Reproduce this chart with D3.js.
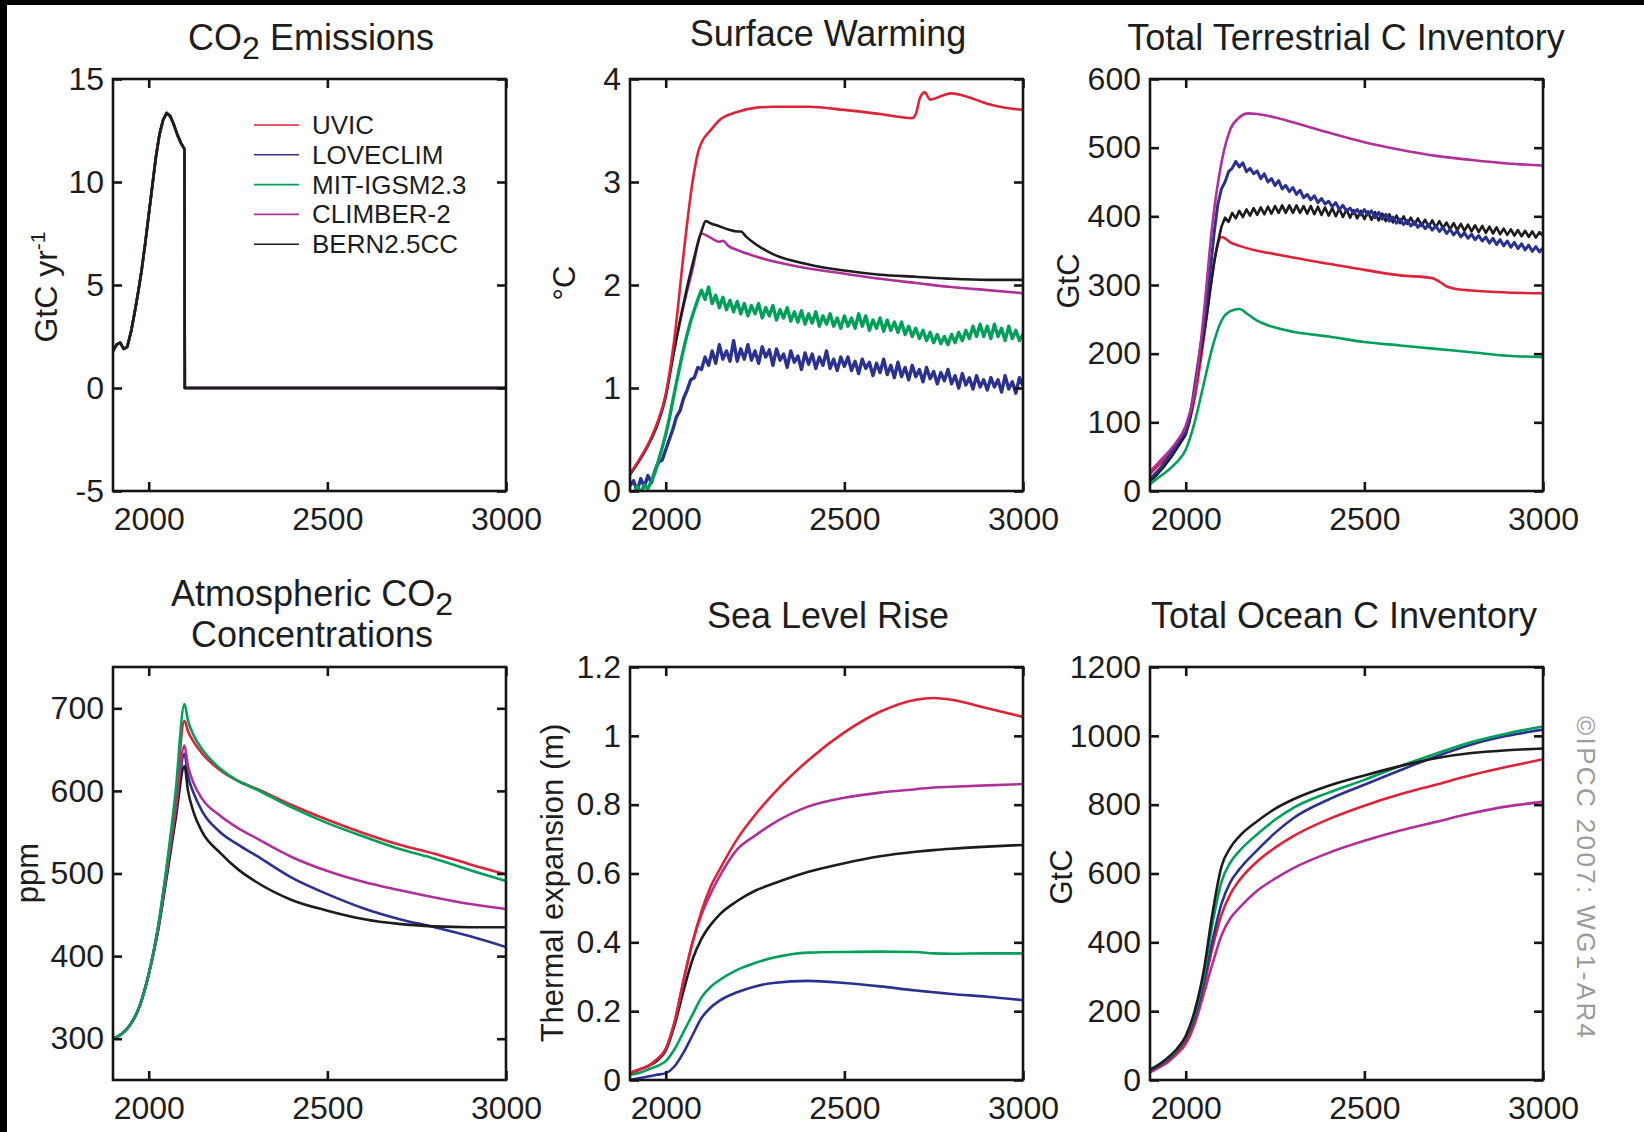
<!DOCTYPE html>
<html>
  <head>
    <title>Carbon cycle model comparison</title>
    <meta charset="utf-8">
    <style>
      body { margin: 0; background: #000; }
      svg { display: block; }
      text { font-family: "Liberation Sans", Arial, sans-serif; fill: #1d1d1d; }
    </style>
  </head>
  <body>
    <script src="https://d3js.org/d3.v7.min.js"></script>
    <script>
      // models and colours
      const models = ["UVIC", "LOVECLIM", "MIT-IGSM2.3", "CLIMBER-2", "BERN2.5CC"]
      const modelColors = ["#dc2337", "#2b3190", "#00a05a", "#b0309a", "#1c1c1c"]
      const xTicks = [2000, 2500, 3000]
      const decades = d3.range(1900, 3001, 10)

      // CO2 emissions (same for all models)
      const emYears = [1900, 1910, 1920, 1930, 1940, 1950, 1960, 1970, 1980, 1990, 2000, 2010, 2020, 2030, 2040, 2050, 2060, 2070, 2080, 2090, 2100, 2101, 3000]
      const emValues = [1.8, 2.1, 2.2, 1.9, 2.0, 2.7, 3.6, 4.6, 5.7, 7.0, 8.4, 9.8, 11.2, 12.3, 13.0, 13.35, 13.2, 12.8, 12.3, 11.9, 11.6, 0, 0]
      const emTicks = [-5, 0, 5, 10, 15]

      // surface warming
      const swRedYears = [1900, 1925, 1950, 1975, 2000, 2025, 2050, 2075, 2090, 2100, 2125, 2150, 2200, 2250, 2300, 2400, 2500, 2600, 2690, 2700, 2712, 2725, 2740, 2775, 2800, 2850, 2900, 2950, 3000]
      const swRed = [0.17, 0.3, 0.45, 0.65, 0.94, 1.5, 2.3, 3.0, 3.28, 3.38, 3.5, 3.6, 3.68, 3.72, 3.73, 3.73, 3.7, 3.66, 3.62, 3.66, 3.82, 3.87, 3.8, 3.84, 3.86, 3.82, 3.76, 3.72, 3.7]
      const swBlackYears = [1900, 1925, 1950, 1975, 2000, 2020, 2050, 2075, 2100, 2112, 2125, 2150, 2175, 2200, 2210, 2225, 2250, 2300, 2400, 2500, 2600, 2700, 2800, 2900, 3000]
      const swBlack = [0.16, 0.29, 0.44, 0.63, 0.92, 1.3, 1.82, 2.2, 2.52, 2.62, 2.6, 2.57, 2.54, 2.52, 2.52, 2.47, 2.4, 2.3, 2.2, 2.14, 2.1, 2.08, 2.06, 2.05, 2.05]
      const swMagYears = [1900, 1925, 1950, 1975, 2000, 2020, 2050, 2075, 2100, 2125, 2150, 2160, 2175, 2200, 2250, 2300, 2400, 2500, 2600, 2700, 2800, 2900, 3000]
      const swMag = [0.16, 0.29, 0.44, 0.63, 0.92, 1.3, 1.8, 2.15, 2.5, 2.46, 2.42, 2.43, 2.38, 2.34, 2.28, 2.23, 2.16, 2.11, 2.06, 2.02, 1.98, 1.95, 1.92]
      const swBlue = [
        0.05, 0.1, 0.0, 0.12, 0.04, 0.15, 0.08, 0.2, 0.28, 0.3,
        0.4, 0.5, 0.6, 0.72, 0.78, 0.9, 0.98, 1.08, 1.1, 1.2,
        1.18, 1.3, 1.22, 1.36, 1.24, 1.42, 1.28, 1.36, 1.26, 1.46,
        1.26, 1.38, 1.28, 1.42, 1.27, 1.36, 1.24, 1.4, 1.3, 1.37,
        1.22, 1.38, 1.27, 1.33, 1.2, 1.36, 1.25, 1.31, 1.18, 1.34,
        1.23, 1.33, 1.19, 1.3, 1.22, 1.36, 1.19, 1.28, 1.17, 1.3,
        1.21, 1.3, 1.17, 1.26, 1.14, 1.28, 1.19, 1.25, 1.12, 1.24,
        1.15, 1.28, 1.13, 1.22, 1.1, 1.25, 1.11, 1.2, 1.08, 1.22,
        1.11, 1.18, 1.06, 1.2, 1.09, 1.16, 1.04, 1.15, 1.07, 1.18,
        1.04, 1.12, 1.0, 1.14, 1.03, 1.1, 0.99, 1.12, 1.01, 1.08,
        0.98, 1.1, 1.01, 1.08, 0.96, 1.12, 0.99, 1.06, 0.95, 1.1,
        1.02]
      const swGreen = [
        0.0, -0.04, 0.05, -0.02, 0.06, 0.02, 0.1, 0.18, 0.3, 0.42,
        0.55, 0.7, 0.88, 1.05, 1.22, 1.38, 1.52, 1.65, 1.76, 1.86,
        1.95, 1.86, 1.98, 1.82, 1.9, 1.78, 1.88, 1.76, 1.85, 1.74,
        1.84, 1.72, 1.82, 1.7, 1.8, 1.72, 1.82, 1.68, 1.78, 1.7,
        1.8, 1.66, 1.76, 1.68, 1.78, 1.65, 1.74, 1.64, 1.75, 1.62,
        1.72, 1.63, 1.74, 1.6, 1.7, 1.62, 1.72, 1.6, 1.68, 1.58,
        1.7, 1.6, 1.68, 1.58, 1.72, 1.6, 1.7, 1.56, 1.66, 1.58,
        1.68, 1.55, 1.66, 1.56, 1.64, 1.54, 1.64, 1.52, 1.6, 1.5,
        1.58, 1.48, 1.56, 1.46, 1.54, 1.44, 1.52, 1.43, 1.5, 1.42,
        1.52, 1.44, 1.54, 1.46, 1.56, 1.48, 1.6, 1.5, 1.62, 1.5,
        1.6, 1.48, 1.62, 1.5, 1.58, 1.46, 1.6, 1.48, 1.56, 1.46,
        1.52]
      const swTicks = [0, 1, 2, 3, 4]

      // total terrestrial C inventory
      const tcYears = [1900, 1925, 1950, 1975, 2000, 2025, 2050, 2075, 2100, 2125, 2150, 2175, 2200, 2250, 2300, 2400, 2500, 2600, 2700, 2800, 2900, 3000]
      const tcMag = [28, 42, 56, 72, 95, 145, 255, 390, 478, 527, 544, 550, 549, 544, 537, 522, 508, 497, 488, 482, 477, 474]
      const tcGreen = [10, 20, 30, 42, 60, 100, 155, 210, 248, 262, 265, 257, 248, 238, 232, 225, 217, 212, 207, 202, 197, 195]
      const tcRedYears = [1900, 1925, 1950, 1975, 2000, 2025, 2050, 2075, 2090, 2100, 2110, 2125, 2150, 2200, 2250, 2300, 2400, 2500, 2600, 2690, 2710, 2730, 2750, 2800, 2900, 3000]
      const tcRed = [25, 38, 52, 68, 85, 135, 220, 318, 360, 370, 368, 362, 357, 350, 345, 340, 331, 322, 314, 310, 305, 298, 295, 292, 289, 288]
      const tcBlue = [
        18, 23, 28, 34, 41, 48, 55, 63, 72, 80,
        85, 105, 135, 170, 205, 238, 282, 328, 378, 418,
        440, 450, 465, 470, 480, 472, 478, 465, 470, 462,
        466, 455, 462, 450, 455, 445, 452, 440, 445, 436,
        442, 432, 438, 427, 432, 424, 430, 420, 426, 418,
        422, 414, 420, 410, 416, 408, 412, 404, 410, 402,
        410, 402, 408, 398, 406, 396, 403, 393, 399, 390,
        396, 388, 394, 386, 392, 384, 390, 382, 388, 380,
        386, 378, 384, 375, 381, 373, 379, 370, 376, 368,
        374, 366, 372, 364, 370, 361, 368, 359, 366, 357,
        364, 355, 362, 353, 360, 351, 358, 349, 356, 348,
        354]
      const tcBlack = [
        15, 19, 24, 30, 36, 43, 50, 58, 66, 74,
        82, 100, 128, 162, 195, 226, 260, 298, 335, 362,
        385, 398, 392, 405, 397, 408, 399, 410, 401, 412,
        402, 413, 403, 414, 404, 415, 405, 416, 405, 416,
        405, 416, 405, 415, 404, 415, 403, 414, 402, 413,
        401, 412, 400, 411, 399, 410, 398, 409, 397, 408,
        396, 407, 395, 406, 394, 404, 393, 403, 391, 401,
        390, 400, 389, 398, 388, 397, 386, 395, 385, 394,
        384, 393, 383, 391, 381, 390, 380, 389, 379, 388,
        378, 387, 377, 386, 376, 385, 375, 384, 374, 382,
        373, 381, 372, 380, 371, 379, 370, 378, 369, 377,
        372]
      const tcTicks = [0, 100, 200, 300, 400, 500, 600]

      // atmospheric CO2
      const acYears = [1900, 1925, 1950, 1975, 2000, 2025, 2050, 2075, 2100, 2110, 2125, 2150, 2200, 2250, 2300, 2400, 2500, 2600, 2700, 2800, 2900, 3000]
      const acRed = [300, 306, 318, 340, 378, 432, 505, 588, 685, 672, 660, 645, 625, 612, 603, 583, 565, 549, 535, 524, 511, 499]
      const acGreen = [300, 306, 318, 340, 378, 433, 508, 598, 705, 685, 668, 650, 627, 612, 602, 580, 561, 545, 530, 518, 504, 491]
      const acMag = [300, 306, 318, 340, 378, 430, 500, 575, 655, 630, 610, 590, 570, 555, 543, 520, 503, 490, 480, 471, 463, 457]
      const acBlue = [300, 306, 318, 340, 378, 430, 498, 570, 645, 618, 598, 575, 550, 535, 522, 495, 475, 458, 445, 435, 424, 411]
      const acBlack = [300, 306, 318, 340, 378, 428, 495, 565, 630, 600, 575, 550, 525, 505, 490, 468, 455, 445, 439, 436, 435, 435]
      const acTicks = [300, 400, 500, 600, 700]

      // sea level rise (thermal expansion)
      const slYears = [1900, 1925, 1950, 1975, 2000, 2025, 2050, 2075, 2100, 2125, 2150, 2200, 2250, 2300, 2400, 2500, 2600, 2700, 2750, 2800, 2900, 3000]
      const slRed = [0.02, 0.03, 0.04, 0.06, 0.09, 0.17, 0.29, 0.4, 0.49, 0.56, 0.61, 0.7, 0.77, 0.83, 0.93, 1.01, 1.07, 1.105, 1.11, 1.105, 1.08, 1.055]
      const slMag = [0.02, 0.03, 0.04, 0.06, 0.09, 0.17, 0.29, 0.4, 0.48, 0.54, 0.59, 0.67, 0.71, 0.745, 0.795, 0.82, 0.835, 0.845, 0.85, 0.852, 0.856, 0.86]
      const slBlack = [0.02, 0.03, 0.04, 0.055, 0.085, 0.16, 0.26, 0.35, 0.41, 0.45, 0.48, 0.52, 0.55, 0.57, 0.605, 0.63, 0.65, 0.663, 0.668, 0.672, 0.678, 0.683]
      const slGreen = [0.015, 0.02, 0.03, 0.04, 0.055, 0.09, 0.14, 0.19, 0.24, 0.27, 0.29, 0.32, 0.34, 0.355, 0.37, 0.372, 0.373, 0.372, 0.368, 0.367, 0.368, 0.368]
      const slBlue = [0.0, 0.005, 0.01, 0.015, 0.02, 0.04, 0.08, 0.13, 0.18, 0.21, 0.23, 0.255, 0.272, 0.282, 0.288, 0.282, 0.272, 0.26, 0.255, 0.25, 0.242, 0.232]
      const slTicks = [0, 0.2, 0.4, 0.6, 0.8, 1, 1.2]

      // total ocean C inventory
      const ocYears = [1900, 1925, 1950, 1975, 2000, 2025, 2050, 2075, 2100, 2125, 2150, 2200, 2250, 2300, 2400, 2500, 2600, 2700, 2800, 2900, 3000]
      const ocBlack = [30, 45, 65, 90, 128, 200, 315, 485, 620, 675, 708, 752, 788, 815, 855, 885, 912, 935, 950, 958, 963]
      const ocGreen = [30, 45, 63, 88, 125, 192, 300, 455, 575, 632, 665, 714, 756, 790, 835, 872, 912, 948, 982, 1007, 1027]
      const ocBlue = [28, 42, 60, 85, 120, 182, 280, 405, 512, 575, 612, 668, 718, 760, 815, 858, 900, 940, 975, 1000, 1018]
      const ocRed = [25, 40, 57, 80, 110, 172, 268, 385, 480, 540, 580, 635, 675, 708, 758, 797, 830, 858, 886, 910, 932]
      const ocMag = [22, 36, 52, 75, 105, 162, 248, 338, 420, 470, 500, 550, 585, 615, 660, 695, 725, 750, 775, 795, 808]
      const ocTicks = [0, 200, 400, 600, 800, 1000, 1200]

      const w = 1644
      const h = 1132
      const cols = [113, 630, 1150]
      const rows = [[79, 491], [667, 1080]]
      const panelW = 393
      const smooth = d3.curveMonotoneX
      const sharp = d3.curveLinear

      const svg = d3.select("body").append("svg")
        .attr("width", w)
        .attr("height", h)
      svg.append("rect").attr("width", w).attr("height", h).attr("fill", "#000")
      svg.append("rect").attr("x", 7).attr("y", 5).attr("width", w - 7).attr("height", h - 5).attr("fill", "#fff")

      const s = (m, xs, ys, curve, sw) => ({ m: m, xs: xs, ys: ys, curve: curve || smooth, sw: sw || 2.6 })

      const panels = [
        { col: 0, row: 0, dom: [-5, 15], ticks: emTicks,
          series: [s(0, emYears, emValues, sharp), s(1, emYears, emValues, sharp), s(2, emYears, emValues, sharp), s(3, emYears, emValues, sharp), s(4, emYears, emValues, sharp)] },
        { col: 1, row: 0, dom: [0, 4], ticks: swTicks,
          series: [s(1, decades, swBlue, sharp, 3.4), s(2, decades, swGreen, sharp, 3.4), s(3, swMagYears, swMag), s(4, swBlackYears, swBlack), s(0, swRedYears, swRed)] },
        { col: 2, row: 0, dom: [0, 600], ticks: tcTicks,
          series: [s(2, tcYears, tcGreen), s(0, tcRedYears, tcRed), s(4, decades, tcBlack, sharp), s(1, decades, tcBlue, sharp, 3), s(3, tcYears, tcMag)] },
        { col: 0, row: 1, dom: [250, 750], ticks: acTicks,
          series: [s(1, acYears, acBlue), s(4, acYears, acBlack), s(3, acYears, acMag), s(0, acYears, acRed), s(2, acYears, acGreen)] },
        { col: 1, row: 1, dom: [0, 1.2], ticks: slTicks,
          series: [s(1, slYears, slBlue), s(2, slYears, slGreen), s(4, slYears, slBlack), s(3, slYears, slMag), s(0, slYears, slRed)] },
        { col: 2, row: 1, dom: [0, 1200], ticks: ocTicks,
          series: [s(3, ocYears, ocMag), s(0, ocYears, ocRed), s(1, ocYears, ocBlue), s(2, ocYears, ocGreen), s(4, ocYears, ocBlack)] }
      ]

      panels.forEach((p, i) => {
        const x0 = cols[p.col]
        const x1 = x0 + panelW
        const y0 = rows[p.row][0]
        const y1 = rows[p.row][1]
        const x = d3.scaleLinear().domain([1900, 3000]).range([x0, x1])
        const y = d3.scaleLinear().domain(p.dom).range([y1, y0])

        svg.append("clipPath").attr("id", "clip" + i)
          .append("rect").attr("x", x0).attr("y", y0).attr("width", x1 - x0).attr("height", y1 - y0)

        p.series.forEach(sr => {
          const line = d3.line().x(d => x(d[0])).y(d => y(d[1])).curve(sr.curve)
          svg.append("path")
            .datum(d3.zip(sr.xs, sr.ys))
            .attr("clip-path", "url(#clip" + i + ")")
            .attr("d", line)
            .attr("fill", "none")
            .attr("stroke", modelColors[sr.m])
            .attr("stroke-width", sr.sw)
            .attr("stroke-linejoin", "round")
        })

        const g = svg.append("g")
        g.append("g").attr("transform", "translate(" + x0 + ",0)")
          .call(d3.axisLeft(y).tickValues(p.ticks).tickSizeInner(-9).tickSizeOuter(0).tickPadding(9).tickFormat(d => String(d)))
        g.append("g").attr("transform", "translate(" + x1 + ",0)")
          .call(d3.axisRight(y).tickValues(p.ticks).tickSizeInner(-9).tickSizeOuter(0).tickFormat(""))
        g.append("g").attr("transform", "translate(0," + y1 + ")")
          .call(d3.axisBottom(x).tickValues(xTicks).tickSizeInner(-9).tickSizeOuter(0).tickPadding(16).tickFormat(d => String(d)))
        g.append("g").attr("transform", "translate(0," + y0 + ")")
          .call(d3.axisTop(x).tickValues(xTicks).tickSizeInner(-9).tickSizeOuter(0).tickFormat(""))
        g.selectAll(".domain").remove()
        g.selectAll(".tick line").attr("stroke", "#141414").attr("stroke-width", 2.6)
        g.selectAll(".tick text")
          .attr("font-size", 32)
          .attr("font-family", "Liberation Sans, Arial, sans-serif")
          .attr("fill", "#1d1d1d")

        svg.append("rect")
          .attr("x", x0).attr("y", y0)
          .attr("width", x1 - x0).attr("height", y1 - y0)
          .attr("fill", "none")
          .attr("stroke", "#141414")
          .attr("stroke-width", 2.6)
      })

      // titles
      const title = (cx, y, txt) => svg.append("text")
        .attr("x", cx).attr("y", y)
        .attr("text-anchor", "middle")
        .attr("font-size", 36)
        .text(txt)

      const co2Title = (cx, y, before, after) => {
        const t = svg.append("text").attr("x", cx).attr("y", y).attr("text-anchor", "middle").attr("font-size", 36)
        t.append("tspan").text(before + "CO")
        t.append("tspan").attr("dy", 9).attr("font-size", 32).text("2")
        t.append("tspan").attr("dy", -9).text(after)
      }
      co2Title(311, 50, "", " Emissions")
      title(828, 46, "Surface Warming")
      title(1346, 50, "Total Terrestrial C Inventory")
      co2Title(312, 606, "Atmospheric ", "")
      title(312, 647, "Concentrations")
      title(828, 628, "Sea Level Rise")
      title(1344, 628, "Total Ocean C Inventory")

      // y axis labels
      const yLabel = (x, y, txt) => svg.append("text")
        .attr("transform", "translate(" + x + "," + y + ") rotate(-90)")
        .attr("text-anchor", "middle")
        .attr("font-size", 31)
        .text(txt)

      const gl = svg.append("text")
        .attr("transform", "translate(57,287) rotate(-90)")
        .attr("text-anchor", "middle")
        .attr("font-size", 32)
      gl.append("tspan").text("GtC yr")
      gl.append("tspan").attr("dy", -12).attr("font-size", 21).text("-1")
      yLabel(575, 283, "°C")
      yLabel(1079, 281, "GtC")
      yLabel(38, 873, "ppm")
      yLabel(563, 883, "Thermal expansion (m)")
      yLabel(1072, 877, "GtC")

      // legend
      const legend = svg.append("g")
      models.forEach((m, i) => {
        const ly = 125 + i * 29.8
        legend.append("line")
          .attr("x1", 254).attr("x2", 299)
          .attr("y1", ly).attr("y2", ly)
          .attr("stroke", modelColors[i])
          .attr("stroke-width", 1.6)
        legend.append("text")
          .attr("x", 312).attr("y", ly + 9)
          .attr("font-size", 26)
          .text(m)
      })

      // copyright
      svg.append("text")
        .attr("transform", "translate(1577,716) rotate(90)")
        .attr("font-size", 26)
        .attr("textLength", 322)
        .attr("lengthAdjust", "spacing")
        .style("fill", "#9b9b9b")
        .text("©IPCC 2007: WG1-AR4")
    </script>
  </body>
</html>
